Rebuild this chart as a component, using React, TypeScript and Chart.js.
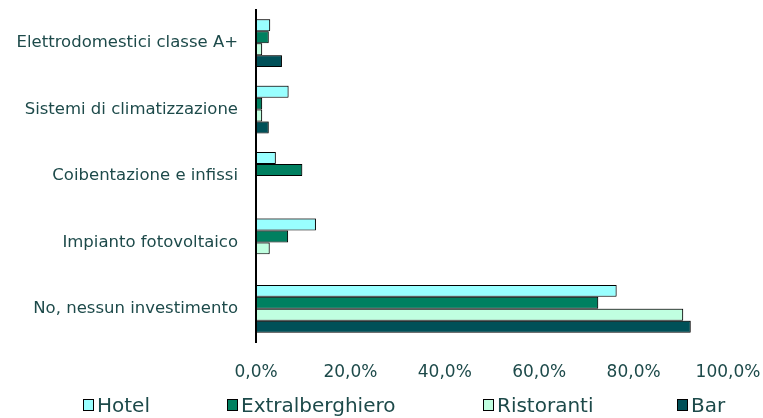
import React, { useEffect, useRef } from "react";
import { Chart, registerables } from "chart.js";

Chart.register(...registerables);

const categories = [
  "Elettrodomestici classe A+",
  "Sistemi di climatizzazione",
  "Coibentazione e infissi",
  "Impianto fotovoltaico",
  "No, nessun investimento",
];
const seriesNames = ["Hotel", "Extralberghiero", "Ristoranti", "Bar"];
const hotel = [3.0, 6.9, 4.2, 12.7, 76.4];
const extralberghiero = [2.7, 1.3, 9.8, 6.8, 72.5];
const ristoranti = [1.3, 1.3, 0, 2.9, 90.5];
const bar = [5.5, 2.7, 0, 0, 92.1];
const seriesColors = ["#99FFFF", "#008060", "#C0FFE0", "#005058"];

const legendLeft = [83, 227, 483, 677];

const TEXT = "#1d4a4a";
const FONT = "'DejaVu Sans', sans-serif";

const shadowPlugin = {
  id: "barShadow",
  beforeDatasetDraw(chart: any) {
    const ctx = chart.ctx;
    ctx.save();
    ctx.shadowColor = "rgba(0,0,0,0.35)";
    ctx.shadowOffsetX = 1;
    ctx.shadowOffsetY = -1;
    ctx.shadowBlur = 0;
  },
  afterDatasetDraw(chart: any) {
    chart.ctx.restore();
  },
};

export default function App() {
  const ref = useRef<HTMLCanvasElement | null>(null);
  useEffect(() => {
    if (!ref.current) return;
    const values = [hotel, extralberghiero, ristoranti, bar];
    const chart = new Chart(ref.current, {
      type: "bar",
      data: {
        labels: categories,
        datasets: seriesNames.map((n, i) => ({
          label: n,
          data: values[i],
          backgroundColor: seriesColors[i],
          borderColor: "#000000",
          borderWidth: 1,
          borderSkipped: false,
          categoryPercentage: 0.72,
          barPercentage: 1,
        })),
      },
      plugins: [shadowPlugin],
      options: {
        indexAxis: "y",
        animation: false,
        responsive: false,
        maintainAspectRatio: false,
        layout: { padding: { top: 10, right: 0, left: 0, bottom: 0 } },
        scales: {
          x: {
            min: 0,
            max: 100,
            grid: { display: false, drawTicks: false },
            border: { display: false },
            ticks: {
              stepSize: 20,
              padding: 20,
              maxRotation: 0,
              color: TEXT,
              font: { family: FONT, size: 17 },
              callback: (v: any) => Number(v).toFixed(1).replace(".", ",") + "%",
            },
            afterFit: (s: any) => {
              s.height = 76;
              s.paddingLeft = 0;
              s.paddingRight = 35;
              s.paddingTop = 0;
              s.paddingBottom = 0;
            },
          },
          y: {
            grid: { display: false },
            border: { display: true, color: "#000000", width: 2 },
            ticks: { padding: 10, color: TEXT, font: { family: FONT, size: 16.5 } },
            afterFit: (s: any) => {
              s.width = 256;
              s.paddingTop = 0;
              s.paddingBottom = 0;
            },
          },
        },
        plugins: {
          legend: { display: false },
          tooltip: { enabled: false },
        },
      },
    });
    return () => chart.destroy();
  }, []);
  return (
    <div style={{ position: "absolute", left: 0, top: 0, width: 763, height: 418, background: "#fff" }}>
      <canvas ref={ref} width={763} height={418} />
      {seriesNames.map((n, i) => (
        <div
          key={n}
          style={{
            position: "absolute",
            left: legendLeft[i],
            top: 393,
            display: "flex",
            alignItems: "center",
            fontFamily: FONT,
            fontSize: 20,
            color: TEXT,
            lineHeight: "24px",
            whiteSpace: "nowrap",
          }}
        >
          <span
            style={{
              display: "inline-block",
              width: 9,
              height: 10,
              background: seriesColors[i],
              border: "1px solid #000",
              marginRight: 3,
            }}
          />
          {n}
        </div>
      ))}
    </div>
  );
}
